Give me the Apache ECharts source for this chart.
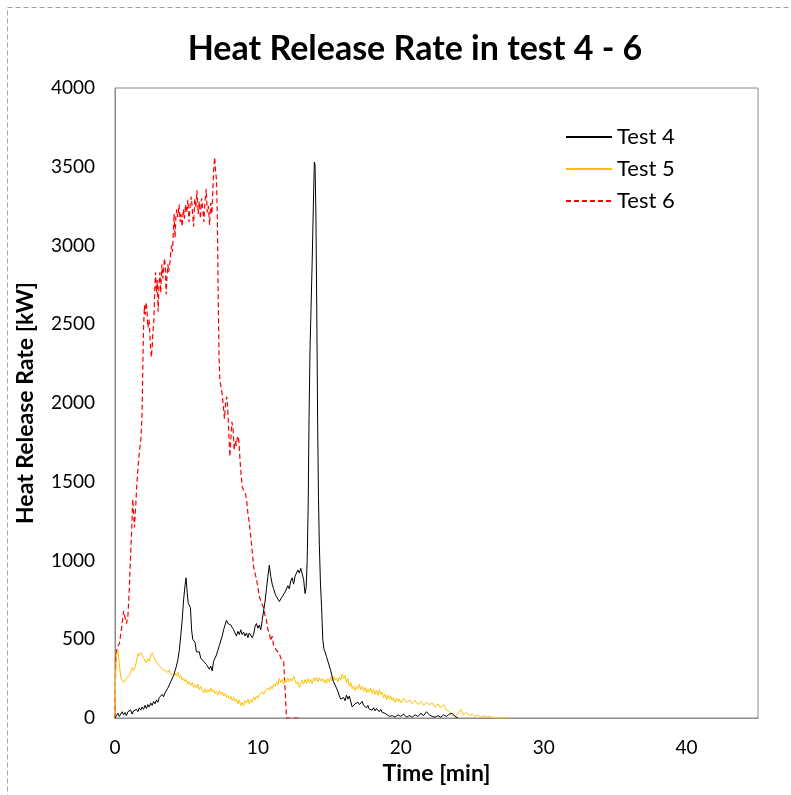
<!DOCTYPE html>
<html><head><meta charset="utf-8">
<script src="https://cdn.jsdelivr.net/npm/echarts@6/dist/echarts.min.js"></script>
<style>html,body{margin:0;padding:0;background:#fff}#c{width:791px;height:795px}</style>
</head><body><div id="c"></div>
<script>
var chartTitle = 'Heat Release Rate in test 4 - 6';
var seriesNames = ['Test 4', 'Test 5', 'Test 6'];
var xTicks = [0, 10, 20, 30, 40];
var yTicks = [0, 500, 1000, 1500, 2000, 2500, 3000, 3500, 4000];

var test4 = [[0,0],[0.1,15],[0.2,30],[0.3,10],[0.4,25],[0.5,40],[0.6,20],[0.7,35],[0.8,15],[0.9,40],[1.0,30],[1.1,50],[1.2,25],[1.3,45],[1.4,35],[1.5,55],[1.6,40],[1.7,65],[1.8,50],[1.9,70],[2.0,55],[2.1,80],[2.2,60],[2.3,85],[2.4,70],[2.5,95],[2.6,80],[2.7,105],[2.8,90],[2.9,115],[3.0,100],[3.1,130],[3.2,120],[3.3,150],[3.4,135],[3.5,160],[3.6,165],[3.7,190],[3.8,200],[3.9,230],[4.0,240],[4.1,270],[4.2,300],[4.3,330],[4.4,370],[4.5,430],[4.6,520],[4.7,620],[4.8,750],[4.9,840],[4.97,890],[5.05,800],[5.12,730],[5.2,740],[5.28,700],[5.36,560],[5.44,500],[5.52,510],[5.6,480],[5.7,420],[5.8,410],[5.9,420],[6.0,380],[6.1,390],[6.2,360],[6.3,370],[6.4,340],[6.5,350],[6.6,310],[6.7,330],[6.8,300],[6.9,360],[7.0,380],[7.1,400],[7.2,430],[7.3,460],[7.4,470],[7.5,520],[7.6,560],[7.7,590],[7.8,620],[7.9,600],[8.0,610],[8.1,590],[8.2,600],[8.3,560],[8.4,540],[8.5,520],[8.6,550],[8.7,530],[8.8,560],[8.9,530],[9.0,545],[9.1,520],[9.2,540],[9.3,510],[9.4,540],[9.5,530],[9.6,510],[9.7,530],[9.8,580],[9.9,600],[10.0,570],[10.1,590],[10.2,560],[10.3,620],[10.4,680],[10.5,740],[10.6,820],[10.7,900],[10.8,970],[10.9,900],[11.0,850],[11.1,820],[11.2,790],[11.3,770],[11.4,760],[11.5,740],[11.6,730],[11.7,770],[11.8,760],[11.9,800],[12.0,790],[12.1,840],[12.2,820],[12.3,870],[12.4,890],[12.5,850],[12.6,900],[12.7,920],[12.8,940],[12.9,920],[13.0,950],[13.1,940],[13.2,880],[13.3,790],[13.38,830],[13.45,1000],[13.52,1350],[13.58,1900],[13.65,2350],[13.72,2600],[13.8,2900],[13.88,3250],[13.95,3530],[14.0,3510],[14.06,3200],[14.12,2600],[14.18,1900],[14.24,1400],[14.3,1100],[14.38,850],[14.46,700],[14.54,500],[14.62,440],[14.7,420],[14.8,390],[14.9,360],[15.0,330],[15.1,300],[15.2,260],[15.3,230],[15.4,220],[15.5,190],[15.6,170],[15.7,140],[15.8,120],[15.9,115],[16.0,130],[16.1,110],[16.2,145],[16.3,120],[16.4,140],[16.5,130],[16.6,70],[16.7,65],[16.8,90],[16.9,80],[17.0,100],[17.1,85],[17.2,95],[17.3,105],[17.4,80],[17.5,70],[17.6,65],[17.7,80],[17.8,55],[17.9,60],[18.0,50],[18.1,65],[18.2,45],[18.3,60],[18.4,50],[18.5,40],[18.6,55],[18.7,35],[18.8,45],[18.9,30],[19.0,25],[19.2,10],[19.4,15],[19.6,5],[19.8,20],[20.0,10],[20.2,25],[20.4,5],[20.6,15],[20.8,5],[21.0,20],[21.2,10],[21.4,30],[21.6,15],[21.8,40],[22.0,20],[22.2,10],[22.4,5],[22.6,15],[22.8,5],[23.0,20],[23.2,10],[23.4,25],[23.6,30],[23.8,10],[24.0,0]];

var test5 = [[0,0],[0.05,300],[0.12,410],[0.2,430],[0.3,350],[0.4,260],[0.5,240],[0.6,225],[0.7,230],[0.8,250],[0.9,240],[1.0,270],[1.1,290],[1.2,320],[1.3,300],[1.4,320],[1.5,360],[1.6,410],[1.7,395],[1.8,415],[1.9,400],[2.0,380],[2.1,370],[2.2,350],[2.3,375],[2.4,360],[2.5,395],[2.6,415],[2.7,390],[2.8,370],[2.9,380],[3.0,345],[3.1,330],[3.2,340],[3.3,310],[3.4,320],[3.5,300],[3.6,310],[3.7,290],[3.8,305],[3.9,280],[4.0,290],[4.1,270],[4.2,285],[4.3,265],[4.4,290],[4.5,255],[4.6,270],[4.7,240],[4.8,255],[4.9,230],[5.0,245],[5.1,215],[5.2,230],[5.3,205],[5.4,225],[5.5,195],[5.6,210],[5.7,190],[5.8,215],[5.9,180],[6.0,200],[6.1,175],[6.2,160],[6.3,185],[6.4,160],[6.5,180],[6.6,165],[6.7,190],[6.8,165],[6.9,180],[7.0,155],[7.1,170],[7.2,145],[7.3,175],[7.4,150],[7.5,165],[7.6,140],[7.7,155],[7.8,130],[7.9,145],[8.0,120],[8.1,140],[8.2,110],[8.3,130],[8.4,105],[8.5,120],[8.6,90],[8.7,115],[8.8,80],[8.9,100],[9.0,75],[9.1,110],[9.2,95],[9.3,120],[9.4,90],[9.5,115],[9.6,100],[9.7,130],[9.8,115],[9.9,140],[10.0,125],[10.1,150],[10.2,140],[10.3,165],[10.4,150],[10.5,175],[10.6,165],[10.7,190],[10.8,175],[10.9,200],[11.0,185],[11.1,215],[11.2,200],[11.3,230],[11.4,210],[11.5,250],[11.6,225],[11.7,245],[11.8,215],[11.9,240],[12.0,225],[12.1,255],[12.2,230],[12.3,250],[12.4,235],[12.5,265],[12.6,240],[12.7,215],[12.8,230],[12.9,195],[13.0,220],[13.1,240],[13.2,215],[13.3,245],[13.4,220],[13.5,250],[13.6,225],[13.7,245],[13.8,220],[13.9,255],[14.0,235],[14.1,260],[14.2,230],[14.3,255],[14.4,235],[14.5,250],[14.6,225],[14.7,245],[14.8,220],[14.9,250],[15.0,230],[15.1,260],[15.2,235],[15.3,265],[15.4,240],[15.5,255],[15.6,230],[15.7,260],[15.8,240],[15.9,280],[16.0,250],[16.1,270],[16.2,225],[16.3,250],[16.4,200],[16.5,225],[16.6,185],[16.7,205],[16.8,175],[16.9,200],[17.0,185],[17.1,215],[17.2,180],[17.3,200],[17.4,170],[17.5,195],[17.6,160],[17.7,185],[17.8,165],[17.9,190],[18.0,155],[18.1,180],[18.2,150],[18.3,175],[18.4,145],[18.5,180],[18.6,150],[18.7,165],[18.8,130],[18.9,150],[19.0,115],[19.1,145],[19.2,120],[19.3,140],[19.4,110],[19.5,130],[19.6,100],[19.7,125],[19.8,105],[19.9,120],[20.0,95],[20.2,125],[20.4,100],[20.6,115],[20.8,90],[21.0,110],[21.2,85],[21.4,105],[21.6,80],[21.8,100],[22.0,85],[22.2,95],[22.4,70],[22.6,90],[22.8,65],[23.0,85],[23.2,50],[23.4,40],[23.6,20],[23.8,10],[24.0,30],[24.2,55],[24.4,20],[24.6,35],[24.8,15],[25.0,25],[25.2,10],[25.4,20],[25.6,5],[25.8,15],[26.0,5],[26.2,12],[26.4,3],[26.6,0],[27.6,0]];

var test6 = [[0,0],[0.05,380],[0.15,450],[0.3,470],[0.45,560],[0.6,680],[0.7,690],[0.8,600],[0.9,640],[1.0,820],[1.1,1050],[1.17,1200],[1.24,1390],[1.3,1300],[1.36,1210],[1.45,1350],[1.52,1470],[1.62,1600],[1.72,1700],[1.82,1780],[1.9,1950],[1.96,2300],[2.0,2480],[2.06,2620],[2.12,2560],[2.18,2640],[2.24,2590],[2.3,2480],[2.38,2530],[2.46,2400],[2.54,2290],[2.6,2350],[2.66,2460],[2.72,2520],[2.78,2720],[2.84,2830],[2.9,2700],[2.96,2780],[3.02,2580],[3.08,2760],[3.14,2830],[3.2,2700],[3.28,2880],[3.34,2790],[3.4,2850],[3.46,2920],[3.52,2860],[3.58,2690],[3.64,2800],[3.7,2880],[3.76,2830],[3.82,2870],[3.9,2950],[3.96,3000],[4.02,2960],[4.08,3080],[4.14,3200],[4.2,3050],[4.26,3180],[4.32,3230],[4.4,3180],[4.48,3260],[4.56,3150],[4.62,3200],[4.7,3120],[4.78,3230],[4.86,3170],[4.94,3260],[5.02,3210],[5.1,3290],[5.18,3150],[5.26,3260],[5.34,3310],[5.42,3220],[5.5,3120],[5.58,3300],[5.66,3240],[5.74,3350],[5.82,3200],[5.9,3280],[5.98,3170],[6.06,3300],[6.14,3230],[6.22,3150],[6.3,3280],[6.38,3360],[6.46,3210],[6.54,3250],[6.62,3130],[6.7,3270],[6.78,3200],[6.86,3380],[6.92,3500],[6.98,3560],[7.04,3470],[7.1,3420],[7.16,3200],[7.22,2700],[7.28,2300],[7.34,2150],[7.42,2100],[7.5,2060],[7.58,1980],[7.66,1900],[7.74,2000],[7.82,2040],[7.9,1950],[7.98,1780],[8.04,1660],[8.1,1760],[8.18,1880],[8.26,1840],[8.34,1700],[8.42,1760],[8.5,1730],[8.58,1790],[8.66,1770],[8.74,1650],[8.82,1550],[8.9,1470],[8.98,1450],[9.06,1460],[9.14,1420],[9.22,1380],[9.3,1300],[9.4,1240],[9.5,1150],[9.6,1060],[9.7,960],[9.8,920],[9.9,880],[10.0,830],[10.1,770],[10.2,780],[10.3,720],[10.4,700],[10.5,650],[10.6,620],[10.7,560],[10.8,540],[10.9,490],[11.0,520],[11.1,460],[11.2,470],[11.3,430],[11.4,440],[11.5,410],[11.6,380],[11.7,370],[11.8,360],[11.9,355],[11.95,100],[12.0,0],[12.9,0]];

var chart = echarts.init(document.getElementById('c'), null, {renderer: 'canvas'});
var FONT = 'Lato, "Open Sans", sans-serif';
chart.setOption({
  animation: false,
  backgroundColor: '#fff',
  graphic: [{
    type: 'rect', left: 5, top: 5, silent: true, z: -1,
    shape: {x: 0, y: 0, width: 820, height: 820},
    style: {fill: null, stroke: '#a0a0a0', lineWidth: 1, lineDash: [5, 3]}
  }],
  title: {
    text: chartTitle, left: 410, top: 27, textAlign: 'center',
    textStyle: {fontFamily: FONT, fontWeight: 'bold', fontSize: 34, color: '#000'}
  },
  legend: {
    orient: 'vertical', left: 560, top: 121, itemGap: 10,
    itemWidth: 46, itemHeight: 22,
    itemStyle: {opacity: 0},
    textStyle: {fontFamily: FONT, fontSize: 22, color: '#000', padding: [0, 0, 0, 0]},
    data: seriesNames
  },
  grid: {left: 115, top: 88, right: 33, bottom: 77, show: true, borderColor: '#8a8a8a', borderWidth: 1, backgroundColor: 'transparent'},
  xAxis: {
    type: 'value', min: 0, max: 45, interval: 10,
    name: 'Time [min]', nameLocation: 'middle', nameGap: 42,
    nameTextStyle: {fontFamily: FONT, fontWeight: 'bold', fontSize: 23, color: '#000', align: 'center'},
    axisLine: {show: true, lineStyle: {color: '#8a8a8a'}},
    axisTick: {show: false}, splitLine: {show: false},
    axisLabel: {fontFamily: FONT, fontSize: 19, color: '#000', margin: 20,
      formatter: function (v) { return xTicks.indexOf(v) >= 0 ? String(v) : ''; }}
  },
  yAxis: {
    type: 'value', min: 0, max: 4000, interval: 500,
    name: 'Heat Release Rate [kW]', nameLocation: 'middle', nameGap: 78, nameRotate: 90,
    nameTextStyle: {fontFamily: FONT, fontWeight: 'bold', fontSize: 23, color: '#000'},
    axisLine: {show: true, lineStyle: {color: '#8a8a8a'}},
    axisTick: {show: false}, splitLine: {show: false},
    axisLabel: {fontFamily: FONT, fontSize: 19, color: '#000', margin: 20,
      formatter: function (v) { return yTicks.indexOf(v) >= 0 ? String(v) : ''; }}
  },
  series: [
    {name: seriesNames[0], type: 'line', data: test4, showSymbol: false, symbol: 'none', z: 3,
      lineStyle: {color: '#000000', width: 1}, itemStyle: {color: '#000000'}},
    {name: seriesNames[1], type: 'line', data: test5, showSymbol: false, symbol: 'none', z: 2,
      lineStyle: {color: '#FFC000', width: 1}, itemStyle: {color: '#FFC000'}},
    {name: seriesNames[2], type: 'line', data: test6, showSymbol: false, symbol: 'none', z: 1,
      lineStyle: {color: '#FF0000', width: 1.2, type: [5, 3]}, itemStyle: {color: '#FF0000'}}
  ]
});
</script>
</body></html>
